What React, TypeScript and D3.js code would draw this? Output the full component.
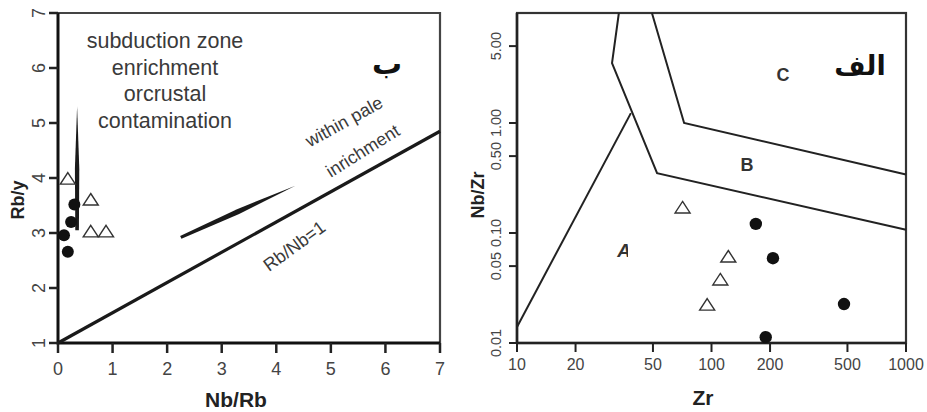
import React from 'react';
import * as d3 from 'd3';

// left diagram: Rb/y vs Nb/Rb
const leftXTicks = [0, 1, 2, 3, 4, 5, 6, 7];
const leftYTicks = [1, 2, 3, 4, 5, 6, 7];
const leftTriangles: [number, number][] = [[0.18, 3.98], [0.6, 3.6], [0.6, 3.02], [0.88, 3.02]];
const leftCircles: [number, number][] = [[0.3, 3.52], [0.24, 3.2], [0.11, 2.96], [0.18, 2.66]];
const rbNbLine: [number, number][] = [[0, 1], [7, 4.85]];
// arrows: tail, head (the neck sits part-way along)
const verticalArrow: [number, number][] = [[0.35, 3.05], [0.35, 5.3]];
const plateArrow: [number, number][] = [[2.25, 2.92], [4.35, 3.86]];
const subductionText = ['subduction zone', 'enrichment', 'orcrustal', 'contamination'];

// right diagram: Nb/Zr vs Zr (log-log)
const rightXTicks = [10, 20, 50, 100, 200, 500, 1000];
const rightYTicks = [0.01, 0.05, 0.1, 0.5, 1, 5];
const rightYLabels = ['0.01', '0.05', '0.10', '0.50', '1.00', '5.00'];
const boundaryA: [number, number][] = [[10, 0.014], [38.5, 1.23]];
const boundaryB: [number, number][] = [[33.4, 10], [30.8, 3.5], [52.5, 0.35], [1000, 0.107]];
const boundaryC: [number, number][] = [[49.4, 10], [72.3, 1.0], [1000, 0.34]];
const rightTriangles: [number, number][] = [[71, 0.169], [122, 0.0605], [111, 0.0374], [95, 0.0221]];
const rightCircles: [number, number][] = [[169, 0.121], [207, 0.059], [480, 0.0226], [190, 0.0113]];

const xL = d3.scaleLinear().domain([0, 7]).range([58, 440]);
const yL = d3.scaleLinear().domain([1, 7]).range([343, 13]);
const xR = d3.scaleLog().domain([10, 1000]).range([517, 906]);
const yR = d3.scaleLog().domain([0.01, 10]).range([343, 13]);

const font = 'Liberation Sans, Arial, sans-serif';
const grey = '#444';

function triPath(cx: number, cy: number) {
  return `M${cx},${cy - 6.5}L${cx + 7.5},${cy + 5}L${cx - 7.5},${cy + 5}Z`;
}

// tapered arrow: rod from tail to neck, then a spindle to the head
function arrowPath(pts: [number, number][], sx: any, sy: any, tw: number, nw: number, f: number) {
  const t = [sx(pts[0][0]), sy(pts[0][1])];
  const h = [sx(pts[1][0]), sy(pts[1][1])];
  const n = [t[0] + (h[0] - t[0]) * f, t[1] + (h[1] - t[1]) * f];
  const dx = h[0] - t[0], dy = h[1] - t[1];
  const len = Math.hypot(dx, dy);
  const nx = -dy / len, ny = dx / len;
  return `M${t[0] + nx * tw},${t[1] + ny * tw}L${n[0] + nx * nw},${n[1] + ny * nw}L${h[0]},${h[1]}L${n[0] - nx * nw},${n[1] - ny * nw}L${t[0] - nx * tw},${t[1] - ny * tw}Z`;
}

export default function App() {
  const lineL = d3.line<[number, number]>().x(d => xL(d[0])).y(d => yL(d[1]));
  const lineR = d3.line<[number, number]>().x(d => xR(d[0])).y(d => yR(d[1]));

  return (
    <svg width={927} height={412} style={{ position: 'absolute', left: 0, top: 0, background: '#fff' }} fontFamily={font}>
      {/* ---------- left panel ---------- */}
      <g>
        <path d={`M${xL(0)},${yL(7)}H${xL(7)}V${yL(1)}`} fill="none" stroke={grey} strokeWidth={2.2} />
        <path d={`M${xL(0)},${yL(7)}V${yL(1)}H${xL(7)}`} fill="none" stroke="#111" strokeWidth={3} />
        {leftXTicks.map(t => (
          <g key={'lx' + t}>
            <line x1={xL(t)} x2={xL(t)} y1={yL(1)} y2={yL(1) + 10} stroke="#222" strokeWidth={2.5} />
            <text x={xL(t)} y={yL(1) + 32} textAnchor="middle" fontSize={18} fill={grey}>{t}</text>
          </g>
        ))}
        {leftYTicks.map(t => (
          <g key={'ly' + t}>
            <line x1={xL(0) - 9} x2={xL(0)} y1={yL(t)} y2={yL(t)} stroke="#222" strokeWidth={2.5} />
            <text transform={`translate(${xL(0) - 13},${yL(t)}) rotate(-90)`} textAnchor="middle" fontSize={18} fill={grey}>{t}</text>
          </g>
        ))}
        <text x={236} y={407} textAnchor="middle" fontSize={21} fontWeight="bold" fill="#222">Nb/Rb</text>
        <text transform="translate(24,200) rotate(-90)" textAnchor="middle" fontSize={18} fontWeight="bold" fill="#222">Rb/y</text>

        <path d={lineL(rbNbLine) || ''} fill="none" stroke="#1a1a1a" strokeWidth={3.2} />
        <path d={arrowPath(verticalArrow, xL, yL, 1.8, 2.2, 0.5)} fill="#1a1a1a" />
        <path d={arrowPath(plateArrow, xL, yL, 1.6, 2.6, 0.5)} fill="#1a1a1a" />

        {subductionText.map((s, i) => (
          <text key={s} x={165} y={48 + i * 26.5} textAnchor="middle" fontSize={21.5} fill="#3a3a3a">{s}</text>
        ))}
        <text transform="translate(347,127) rotate(-29)" textAnchor="middle" fontSize={18} fill="#3a3a3a">within pale</text>
        <text transform="translate(366,156) rotate(-32)" textAnchor="middle" fontSize={18} fill="#3a3a3a">inrichment</text>
        <text transform="translate(298,251) rotate(-36)" textAnchor="middle" fontSize={18} fill="#3a3a3a">Rb/Nb=1</text>
        <rect x={354} y={26} width={66} height={64} fill="#fff" />
        <text x={387} y={74} textAnchor="middle" fontSize={30} fontWeight="bold" fill="#111" fontFamily="DejaVu Sans, sans-serif">ب</text>

        {leftTriangles.map((d, i) => (
          <path key={'lt' + i} d={triPath(xL(d[0]), yL(d[1]))} fill="#fff" stroke="#333" strokeWidth={1.4} />
        ))}
        {leftCircles.map((d, i) => (
          <circle key={'lc' + i} cx={xL(d[0])} cy={yL(d[1])} r={6} fill="#111" />
        ))}
      </g>

      {/* ---------- right panel ---------- */}
      <g>
        <rect x={xR(10)} y={yR(10)} width={xR(1000) - xR(10)} height={yR(0.01) - yR(10)} fill="none" stroke="#333" strokeWidth={2.2} />
        <line x1={xR(10)} x2={xR(10)} y1={yR(10)} y2={yR(0.01)} stroke="#222" strokeWidth={2.6} />
        <line x1={xR(10)} x2={xR(1000)} y1={yR(0.01)} y2={yR(0.01)} stroke="#222" strokeWidth={2.6} />
        {rightXTicks.map(t => (
          <g key={'rx' + t}>
            <line x1={xR(t)} x2={xR(t)} y1={yR(0.01)} y2={yR(0.01) + 9} stroke="#222" strokeWidth={2} />
            <text x={xR(t)} y={yR(0.01) + 27} textAnchor="middle" fontSize={16} fill={grey}>{t}</text>
          </g>
        ))}
        {rightYTicks.map((t, i) => (
          <g key={'ry' + t}>
            <line x1={xR(10) - 8} x2={xR(10)} y1={yR(t)} y2={yR(t)} stroke="#222" strokeWidth={2} />
            <text transform={`translate(${xR(10) - 16},${yR(t)}) rotate(-90)`} textAnchor="middle" fontSize={14.5} fill={grey}>{rightYLabels[i]}</text>
          </g>
        ))}
        <text x={703} y={405} textAnchor="middle" fontSize={21} fontWeight="bold" fill="#222">Zr</text>
        <text transform="translate(484,195) rotate(-90)" textAnchor="middle" fontSize={18} fontWeight="bold" fill="#222">Nb/Zr</text>

        <path d={lineR(boundaryA) || ''} fill="none" stroke="#222" strokeWidth={2} />
        <path d={lineR(boundaryB) || ''} fill="none" stroke="#222" strokeWidth={2} />
        <path d={lineR(boundaryC) || ''} fill="none" stroke="#222" strokeWidth={2} />

        <text x={783} y={81} textAnchor="middle" fontSize={18} fontWeight="bold" fill="#333">C</text>
        <text x={747} y={171} textAnchor="middle" fontSize={18} fontWeight="bold" fill="#333">B</text>
        <text x={624} y={257} textAnchor="middle" fontSize={19} fontWeight="bold" fontStyle="italic" fill="#333">A</text>
        <rect x={628} y={238} width={20} height={26} fill="#fff" />
        <rect x={808} y={24} width={92} height={66} fill="#fff" />
        <text x={860} y={75} textAnchor="middle" fontSize={27} fontWeight="bold" fill="#111" fontFamily="DejaVu Sans, sans-serif">الف</text>

        {rightTriangles.map((d, i) => (
          <path key={'rt' + i} d={triPath(xR(d[0]), yR(d[1]))} fill="#fff" stroke="#333" strokeWidth={1.4} />
        ))}
        {rightCircles.map((d, i) => (
          <circle key={'rc' + i} cx={xR(d[0])} cy={yR(d[1])} r={6.2} fill="#111" />
        ))}
      </g>
    </svg>
  );
}
